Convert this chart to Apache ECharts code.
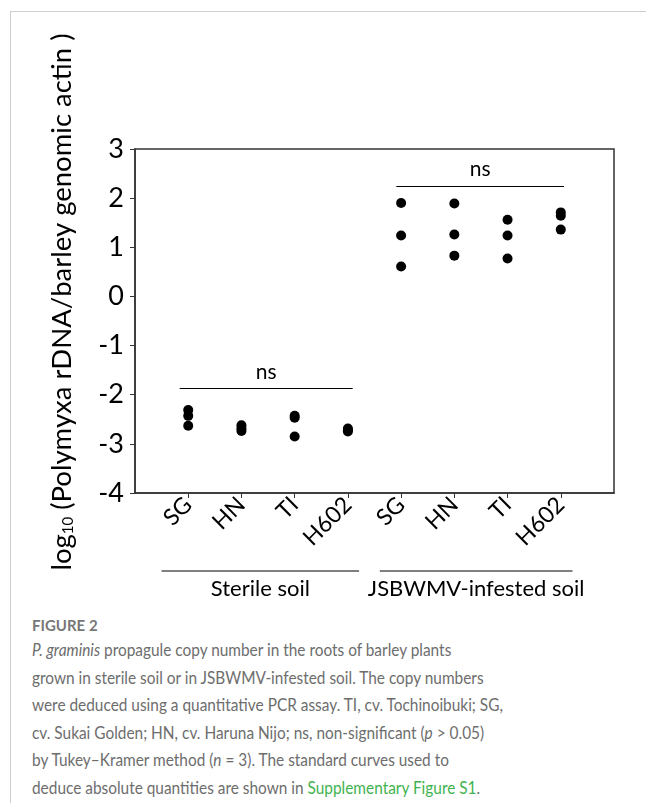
<!DOCTYPE html>
<html>
<head>
<meta charset="utf-8">
<script src="https://cdn.jsdelivr.net/npm/echarts@6/dist/echarts.min.js"></script>
<style>
  body { margin: 0; background: #fff; }
  #card { position: absolute; left: 10px; top: 11px; width: 640px; height: 800px;
          border-left: 1px solid #cfcfcf; border-top: 1px solid #cfcfcf; }
  #main { position: absolute; left: 0; top: 0; width: 646px; height: 600px; }
  #cap { position: absolute; left: 32px; top: 616px; width: 610px; white-space: nowrap;
         font-family: Lato, sans-serif; color: #6d6d6d; }
  #cap .fig { font-size: 15px; font-weight: bold; color: #777; }
  #cap p { margin: 2px 0 0 0; font-size: 17.5px; line-height: 27.6px;
           transform: scaleX(0.88); transform-origin: left top; }
  #cap .lnk { color: #3fb34f; }
</style>
</head>
<body>
<div id="card"></div>
<div id="main"></div>
<div id="cap">
  <div class="fig">FIGURE 2</div>
  <p><i>P. graminis</i> propagule copy number in the roots of barley plants<br>grown in sterile soil or in JSBWMV-infested soil. The copy numbers<br>were deduced using a quantitative PCR assay. TI, cv. Tochinoibuki; SG,<br>cv. Sukai Golden; HN, cv. Haruna Nijo; ns, non-significant (<i>p</i> &gt; 0.05)<br>by Tukey&#8211;Kramer method (<i>n</i> = 3). The standard curves used to<br>deduce absolute quantities are shown in <span class="lnk">Supplementary Figure S1</span>.</p>
</div>
<script type="text/javascript">
// cultivars, one slot per position on the x axis (1..8)
var cultivars = ['SG', 'HN', 'TI', 'H602', 'SG', 'HN', 'TI', 'H602'];
// log10 copy ratios, three plants each
var sterile = [
  [-2.31, -2.43, -2.63],
  [-2.62, -2.69, -2.74],
  [-2.43, -2.47, -2.85],
  [-2.69, -2.72, -2.75]
];
var infested = [
  [1.90, 1.24, 0.61],
  [1.89, 1.26, 0.83],
  [1.56, 1.24, 0.77],
  [1.71, 1.64, 1.36]
];
var yTicks = [-4, -3, -2, -1, 0, 1, 2, 3];
var groups = ['Sterile soil', 'JSBWMV-infested soil'];
// ns bars: [x from, x to, y]
var nsBars = [[0.84, 4.09, -1.87], [4.91, 8.06, 2.25]];

var FONT = 'Lato, "Open Sans", sans-serif';

var points = [];
sterile.concat(infested).forEach(function (vals, i) {
  vals.forEach(function (v) { points.push([i + 1, v]); });
});

var chart = echarts.init(document.getElementById('main'));

var option = {
  animation: false,
  grid: { left: 135, top: 149, width: 479, height: 344, show: true,
          borderColor: '#333', borderWidth: 1.5, backgroundColor: 'transparent' },
  xAxis: {
    type: 'value', min: 0, max: cultivars.length + 1, interval: 1,
    splitLine: { show: false },
    axisLine: { onZero: false, lineStyle: { color: '#333', width: 1.5 } },
    axisTick: { length: 5, lineStyle: { color: '#333' },
                customValues: cultivars.map(function (c, i) { return i + 1; }) },
    axisLabel: {
      rotate: 45, margin: 8, color: '#000', fontFamily: FONT, fontSize: 23,
      customValues: cultivars.map(function (c, i) { return i + 1; }),
      formatter: function (v) { return cultivars[Math.round(v) - 1] || ''; }
    }
  },
  yAxis: {
    type: 'value', min: yTicks[0], max: yTicks[yTicks.length - 1], interval: 1,
    splitLine: { show: false },
    axisLine: { onZero: false, lineStyle: { color: '#333', width: 1.5 } },
    axisTick: { show: true, length: 5, lineStyle: { color: '#333' } },
    axisLabel: { color: '#000', fontFamily: FONT, fontSize: 27, margin: 11 }
  },
  series: [{
    type: 'scatter',
    symbol: 'circle',
    symbolSize: 10,
    itemStyle: { color: '#000', opacity: 1 },
    data: points,
    markLine: {
      silent: true,
      symbol: 'none',
      lineStyle: { color: '#000', width: 1, type: 'solid' },
      label: { show: true, position: 'middle', formatter: 'ns', color: '#000',
               fontFamily: FONT, fontSize: 21, distance: 6 },
      data: nsBars.map(function (b) {
        return [{ coord: [b[0], b[2]] }, { coord: [b[1], b[2]] }];
      })
    }
  }]
};

chart.setOption(option);

// group brackets under the cultivar labels
var spans = [[0.5, 4.21], [4.6, 8.22]];
var gfx = [];
spans.forEach(function (s, i) {
  var a = chart.convertToPixel({ gridIndex: 0 }, [s[0], 0])[0];
  var b = chart.convertToPixel({ gridIndex: 0 }, [s[1], 0])[0];
  gfx.push({ type: 'line', shape: { x1: a, y1: 571, x2: b, y2: 571 },
             style: { stroke: '#000', lineWidth: 1 } });
  gfx.push({ type: 'text', x: (a + b) / 2, y: 589,
             style: { text: groups[i], fill: '#000', font: '22px ' + FONT,
                      align: 'center', verticalAlign: 'middle' } });
});
// y axis title with subscript
gfx.push({
  type: 'text', x: 62, y: 302, rotation: Math.PI / 2,
  style: {
    text: '{a|log}{b|10}{a| (Polymyxa rDNA/barley genomic actin )}',
    align: 'center', verticalAlign: 'middle', fill: '#000',
    rich: {
      a: { fontFamily: FONT, fontSize: 27.5, fill: '#000' },
      b: { fontFamily: FONT, fontSize: 15, fill: '#000', padding: [13, 0, 0, 0] }
    }
  }
});
chart.setOption({ graphic: gfx });
</script>
</body>
</html>
